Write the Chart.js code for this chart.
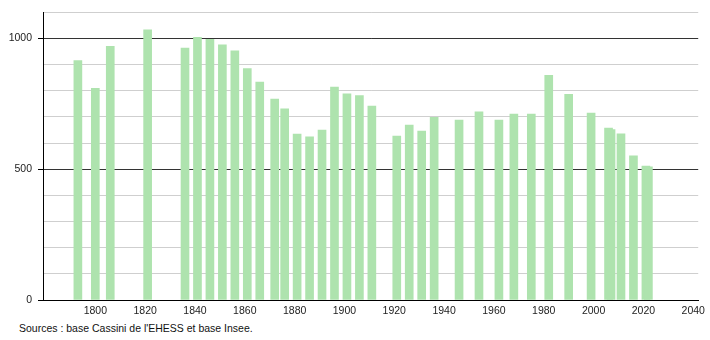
<!DOCTYPE html>
<html>
<head>
<meta charset="utf-8">
<script src="https://cdn.jsdelivr.net/npm/chart.js@4/dist/chart.umd.min.js"></script>
<style>
  html, body { margin: 0; padding: 0; background: #fff; }
  #wrap { position: relative; width: 710px; height: 340px; }
  #src { position: absolute; left: 19px; top: 322px; font: 10.5px "Liberation Sans", Arial, sans-serif; color: #111; }
</style>
</head>
<body>
<div id="wrap">
  <canvas id="c" width="710" height="320"></canvas>
  <div id="src">Sources : base Cassini de l'EHESS et base Insee.</div>
</div>
<script>
const years = [1793,1800,1806,1821,1836,1841,1846,1851,1856,1861,1866,1872,1876,1881,1886,1891,1896,1901,1906,1911,1921,1926,1931,1936,1946,1954,1962,1968,1975,1982,1990,1999,2006,2007,2011,2016,2021,2022];
const population = [915,809,970,1033,963,1004,997,976,953,885,833,768,731,634,624,650,814,788,782,741,627,669,646,698,688,719,688,711,711,859,786,715,657,652,635,551,512,509];
const xTickYears = [1800,1820,1840,1860,1880,1900,1920,1940,1960,1980,2000,2020,2040];
const yLabelValues = [0,500,1000];

const points = years.map((y, i) => ({ x: y, y: population[i] }));

new Chart(document.getElementById('c'), {
  type: 'bar',
  data: {
    datasets: [{
      data: points,
      backgroundColor: '#aee3ae',
      borderWidth: 0,
      barThickness: 8
    }]
  },
  options: {
    responsive: false,
    animation: false,
    layout: { padding: { left: 0, right: 10, top: 10, bottom: 0 } },
    plugins: { legend: { display: false }, tooltip: { enabled: false } },
    scales: {
      x: {
        type: 'linear',
        offset: false,
        min: 1779,
        max: 2042,
        afterBuildTicks: (s) => { s.ticks = xTickYears.map(v => ({ value: v })); },
        afterFit: (s) => { s.height = 20; },
        grid: { display: false, drawTicks: false },
        border: { display: true, color: '#000', width: 1 },
        ticks: {
          padding: 5,
          maxRotation: 0,
          autoSkip: false,
          color: '#222',
          font: { family: '"Liberation Sans", Arial, sans-serif', size: 10.5 },
          callback: (v) => String(v)
        }
      },
      y: {
        min: 0,
        max: 1100,
        afterFit: (s) => { s.width = 43; },
        ticks: {
          stepSize: 100,
          autoSkip: false,
          padding: 6,
          color: '#222',
          font: { family: '"Liberation Sans", Arial, sans-serif', size: 10.5 },
          callback: (v) => yLabelValues.includes(v) ? String(v) : ''
        },
        grid: {
          color: (ctx) => (ctx.tick && ctx.tick.value % 500 === 0) ? '#333' : '#cfcfcf',
          tickColor: (ctx) => (ctx.tick && ctx.tick.value % 500 === 0) ? '#000' : 'rgba(0,0,0,0)',
          tickLength: 5,
          lineWidth: 1
        },
        border: { display: true, color: '#000', width: 1 }
      }
    }
  }
});
</script>
</body>
</html>
